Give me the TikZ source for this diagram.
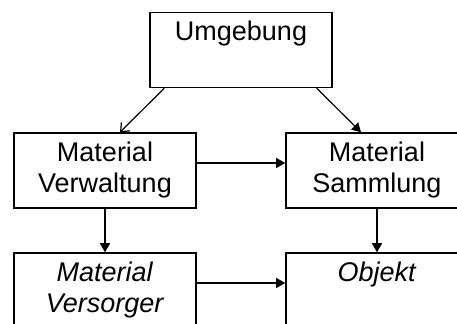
\documentclass[tikz,border=0pt]{standalone}
\usepackage{fontspec}
\setmainfont{Liberation Sans}
\usetikzlibrary{arrows.meta}

\tikzset{
  kasten/.style={draw, line width=0.75pt, minimum width=91pt, minimum height=37.5pt,
    inner sep=2pt, align=center, font=\fontsize{13.5}{15.5}\selectfont},
  pfeil/.style={line width=0.6pt, -{Triangle[width=5pt,length=4.5pt]}},
  offen/.style={line width=0.6pt, -{Straight Barb[width=6pt,length=3.5pt]}}
}

\begin{document}
\begin{tikzpicture}[x=0.5pt, y=-0.5pt]

    % 画面范围
    \clip (0,0) rectangle (457,324);

    % 画方框
    \node[kasten] (umg) at (241,50) {\strut Umgebung\\\strut};
    \node[kasten] (verw) at (105,170.5) {\strut Material\\\strut Verwaltung};
    \node[kasten] (samm) at (377,170.5) {\strut Material\\\strut Sammlung};
    \node[kasten] (vers) at (105,290.5) {\strut\textit{Material}\\\strut\textit{Versorger}};
    \node[kasten] (obj) at (377,290.5) {\strut\textit{Objekt}\\\strut};

    % 画箭头
    \draw[offen] ([xshift=7.5pt]umg.south west) -- ([xshift=7.5pt]verw.north);
    \draw[pfeil] ([xshift=-8pt]umg.south east) -- ([xshift=-8pt]samm.north);
    \draw[pfeil] ([yshift=3.75pt]verw.east) -- ([yshift=3.75pt]samm.west);
    \draw[pfeil] (verw.south) -- (vers.north);
    \draw[pfeil] (samm.south) -- (obj.north);
    \draw[pfeil] ([yshift=3.75pt]vers.east) -- ([yshift=3.75pt]obj.west);

  \end{tikzpicture}
\end{document}
